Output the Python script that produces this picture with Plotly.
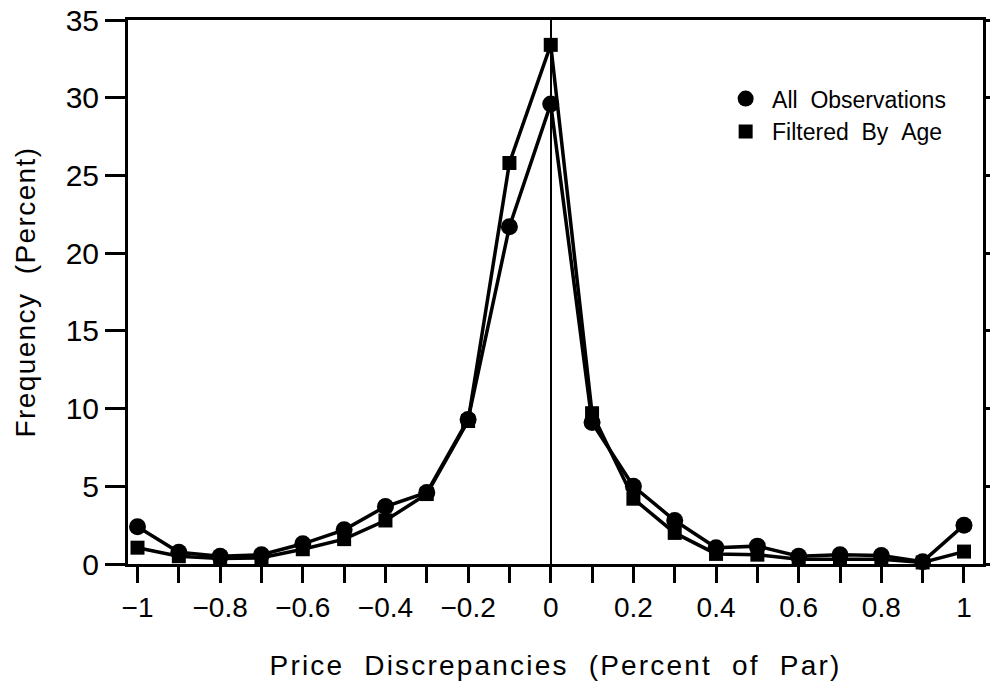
import plotly.graph_objects as go

x_vals = [-1.0, -0.9, -0.8, -0.7, -0.6, -0.5, -0.4, -0.3, -0.2, -0.1, 0.0,
          0.1, 0.2, 0.3, 0.4, 0.5, 0.6, 0.7, 0.8, 0.9, 1.0]
all_obs = [2.4, 0.75, 0.5, 0.6, 1.3, 2.2, 3.7, 4.6, 9.3, 21.7, 29.6,
           9.1, 5.0, 2.8, 1.05, 1.15, 0.5, 0.6, 0.55, 0.15, 2.5]
filtered = [1.05, 0.5, 0.35, 0.4, 0.95, 1.6, 2.8, 4.5, 9.2, 25.8, 33.4,
            9.7, 4.2, 2.0, 0.65, 0.6, 0.3, 0.3, 0.3, 0.1, 0.8]
x_tick_vals = x_vals
x_tick_text = ["\u22121", "", "\u22120.8", "", "\u22120.6", "", "\u22120.4", "", "\u22120.2", "", "0",
               "", "0.2", "", "0.4", "", "0.6", "", "0.8", "", "1"]
y_tick_vals = [0, 5, 10, 15, 20, 25, 30, 35]

FONT = "Liberation Sans, Arial, sans-serif"
NB = "\u00a0"

fig = go.Figure()
fig.add_trace(go.Scatter(x=x_vals, y=filtered, mode="lines+markers",
                         line=dict(color="black", width=3.5),
                         marker=dict(symbol="square", size=14, color="black"),
                         showlegend=False, cliponaxis=False))
fig.add_trace(go.Scatter(x=x_vals, y=all_obs, mode="lines+markers",
                         line=dict(color="black", width=3.5),
                         marker=dict(symbol="circle", size=17, color="black"),
                         showlegend=False, cliponaxis=False))
fig.add_trace(go.Scatter(x=[None], y=[None], mode="markers",
                         name=NB + "All" + NB * 2 + "Observations",
                         marker=dict(symbol="circle", size=18, color="black")))
fig.add_trace(go.Scatter(x=[None], y=[None], mode="markers",
                         name=NB + "Filtered" + NB * 2 + "By" + NB * 2 + "Age",
                         marker=dict(symbol="square", size=14, color="black")))

fig.update_layout(
    width=990, height=682,
    margin=dict(l=128, r=7, t=20, b=118),
    paper_bgcolor="white", plot_bgcolor="white",
    font=dict(family=FONT, color="black"),
    legend=dict(x=0.699, y=0.895, xanchor="left", yanchor="top",
                font=dict(size=23, family=FONT), bgcolor="rgba(0,0,0,0)",
                itemwidth=30, tracegroupgap=0),
    xaxis=dict(range=[-1.023, 1.046], tickvals=x_tick_vals, ticktext=x_tick_text,
               ticks="outside", ticklen=16, tickwidth=3, tickcolor="black",
               showline=True, linewidth=3, linecolor="black", mirror=True,
               showgrid=False, zeroline=True, zerolinecolor="black", zerolinewidth=2,
               automargin=False,
               tickfont=dict(size=28, family=FONT),
               title=dict(text="Price" + NB * 2 + "Discrepancies" + NB * 2 + "(Percent" + NB * 2
                          + "of" + NB * 2 + "Par)",
                          font=dict(size=28, family=FONT), standoff=34)),
    yaxis=dict(range=[0, 35], tickvals=y_tick_vals,
               ticks="outside", ticklen=20, tickwidth=3, tickcolor="black",
               showline=True, linewidth=3, linecolor="black", mirror="ticks",
               showgrid=False, zeroline=False, automargin=False,
               tickfont=dict(size=30, family=FONT),
               title=dict(text="Frequency" + NB * 2 + "(Percent)",
                          font=dict(size=28, family=FONT), standoff=22)),
)

post = """
document.body.style.margin = '0';
document.body.style.overflow = 'hidden';
document.querySelectorAll('.xtitle').forEach(function(e){ e.style.letterSpacing = '2.2px'; });
document.querySelectorAll('.ytitle').forEach(function(e){ e.style.letterSpacing = '1.4px'; });
"""

fig.write_html("out.html", post_script=post, config={"displayModeBar": False})
